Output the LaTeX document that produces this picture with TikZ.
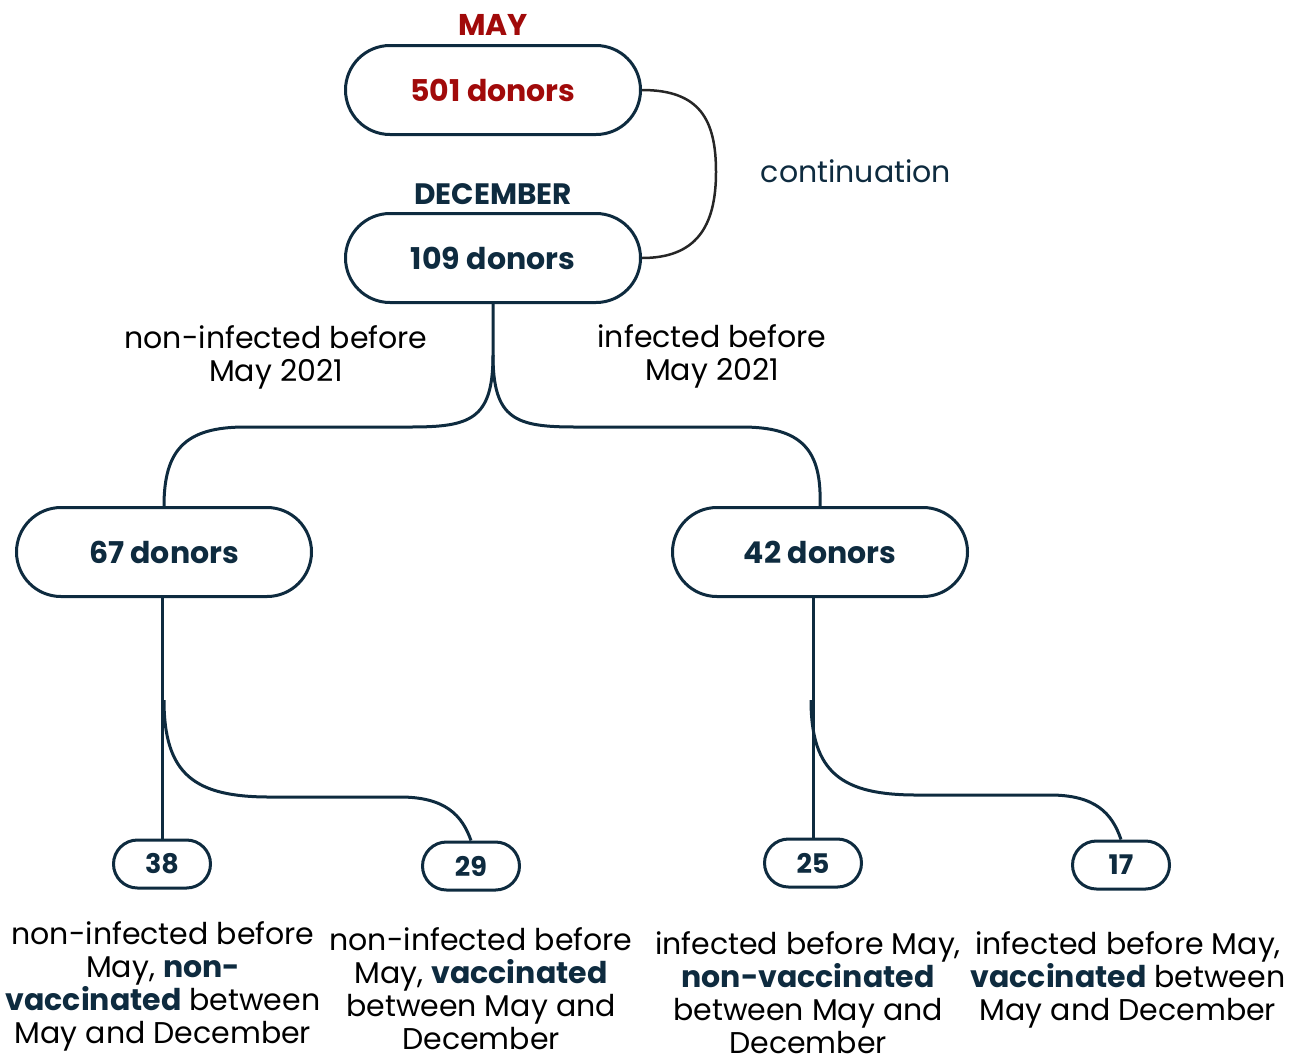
\documentclass[tikz,border=0pt]{standalone}
\usepackage{fontspec}
\setmainfont{Poppins}
\usetikzlibrary{shapes.misc}
\definecolor{navy}{HTML}{0E2B3F}
\definecolor{maired}{HTML}{A10A0A}
\newcommand{\fs}[1]{\fontsize{#1}{#1}\selectfont}
\tikzset{
  pill/.style={rounded rectangle, draw=navy, line width=3pt, fill=white, text=navy,
    font=\fs{30}\bfseries, minimum width=295pt, minimum height=89pt, inner sep=0pt},
  smallpill/.style={pill, font=\fs{27}\bfseries, minimum width=97pt, minimum height=48pt},
  tree/.style={draw=navy, line width=3pt},
  caption/.style={align=center, inner sep=0pt, font=\fontsize{30}{33}\selectfont},
}
\begin{document}
\begin{tikzpicture}[x=1pt, y=-1pt]
  \useasboundingbox (0,0) rectangle (1300,1053);

  % Mai et decembre
  \node (may) at (493,25) [text=maired, font=\fs{30}\bfseries] {MAY};
  \node (m501) at (493,90) [pill, text=maired] {501 donors};
  \node (dec) at (493,194) [text=navy, font=\fs{29.5}\bfseries] {DECEMBER};
  \node (d109) at (493,258) [pill] {109 donors};

  % Suivi
  \draw[line width=2.5pt, black!85] (m501.east) .. controls (700,90) and (716,120) .. (716,172)
    .. controls (716,228) and (695,258) .. (d109.east);
  \node (cont) at (856,171) [text=navy, font=\fs{30}] {continuation};

  % Deux groupes
  \node (g67) at (164,552) [pill] {67 donors};
  \node (g42) at (820,552) [pill] {42 donors};
  \coordinate (split) at (493,355);
  \draw[tree] (d109.south) -- (split) .. controls (493,420) and (470,427) .. (410,427) -- (245,427)
    .. controls (185,427) and (164,450) .. (g67.north);
  \draw[tree] (split) .. controls (493,420) and (516,427) .. (576,427) -- (742,427)
    .. controls (802,427) and (822,450) .. (g42.north);
  \node (lnon) at (276,357) [caption] {non-infected before\\May 2021};
  \node (linf) at (712,356) [caption] {infected before\\May 2021};

  % Feuilles
  \node (n38) at (162,864) [smallpill] {38};
  \node (n29) at (471,866) [smallpill] {29};
  \node (n25) at (813,863) [smallpill] {25};
  \node (n17) at (1121,865) [smallpill] {17};

  \coordinate (fork1) at (164,700);
  \coordinate (fork2) at (811,700);
  \draw[tree] (g67.south -| n38.north) -- (n38.north);
  \draw[tree] (fork1) .. controls (164,775) and (195,797) .. (270,797) -- (400,797)
    .. controls (445,797) and (462,815) .. (n29.north);
  \draw[tree] (g42.south -| n25.north) -- (n25.north);
  \draw[tree] (fork2) .. controls (811,773) and (842,795) .. (917,795) -- (1050,795)
    .. controls (1095,795) and (1112,813) .. (n17.north);

  % Legendes
  \node (t38) at (163,921) [caption, anchor=north] {non-infected before\\May, \textcolor{navy}{\textbf{non-}}\\\textcolor{navy}{\textbf{vaccinated}} between\\May and December};
  \node (t29) at (481,927) [caption, anchor=north] {non-infected before\\May, \textcolor{navy}{\textbf{vaccinated}}\\between May and\\December};
  \node (t25) at (808,931) [caption, anchor=north] {infected before May,\\\textcolor{navy}{\textbf{non-vaccinated}}\\between May and\\December};
  \node (t17) at (1128,931) [caption, anchor=north] {infected before May,\\\textcolor{navy}{\textbf{vaccinated}} between\\May and December};
\end{tikzpicture}
\end{document}
